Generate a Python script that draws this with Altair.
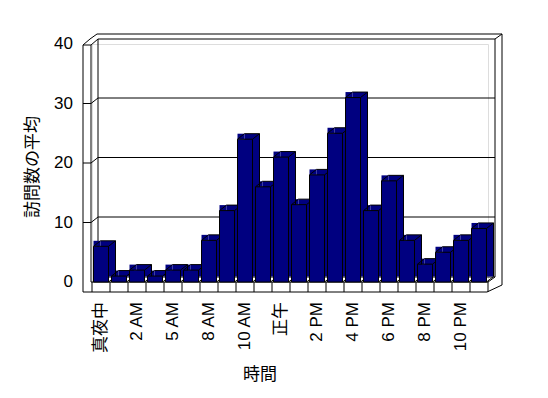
import altair as alt
import pandas as pd

# ---- data ----
hours = ["真夜中", "1 AM", "2 AM", "3 AM", "5 AM", "6 AM", "8 AM", "9 AM", "10 AM",
         "11 AM", "正午", "1 PM", "2 PM", "3 PM", "4 PM", "5 PM", "6 PM", "7 PM",
         "8 PM", "9 PM", "10 PM", "11 PM"]
visits = [6, 1, 2, 1, 2, 2, 7, 12, 24, 16, 21, 13, 18, 25, 31, 12, 17, 7, 3, 5, 7, 9]
y_ticks = [0, 10, 20, 30, 40]
shown_label_idx = [0, 2, 4, 6, 8, 10, 12, 14, 16, 18, 20]

y_title = "訪問数の平均"
x_title = "時間"

# ---- geometry / style ----
W, H = 396, 238
N = len(hours)
YMAX = 40
PX_X = W / N          # px per category
PX_Y = H / YMAX       # px per unit
DX, DY = 7, 5.5       # depth of the 3D effect (px)
DXU, DYU = DX / PX_X, DY / PX_Y
A, B = 1.5 / PX_X, 16.5 / PX_X
NAVY = "#000080"
FONT = "Liberation Sans, Noto Sans CJK JP, sans-serif"

xs = alt.Scale(domain=[0, N], nice=False, zero=False)
ys = alt.Scale(domain=[0, YMAX], nice=False, zero=False)

bars = pd.DataFrame({"i": range(N), "hour": hours, "v": visits})
bars["x0"] = bars["i"] + A
bars["x1"] = bars["i"] + B
bars["zero"] = 0.0
bars["bx0"] = bars["x0"] + DXU
bars["bx1"] = bars["x1"] + DXU
bars["bv"] = bars["v"] + DYU
bars["bz"] = DYU

grid = pd.DataFrame({"v": [10, 20, 30]})
grid["bv"] = grid["v"] + DYU
floor_ticks = pd.DataFrame({"b": list(range(0, N + 1))})
ytick_df = pd.DataFrame({"v": y_ticks, "t": [str(t) for t in y_ticks]})

# frame of the 3D box: pixel offsets inside the plot area, mapped to scale units
frame_px = [
    (-9, 1, -9, 248), (-1, 1, -1, 238), (-9, 1, -1, 1), (-9, 1, -2, -5),
    (-1, 1, 6, -5), (-2, -5, 5, -10), (5, -10, 410, -10), (6, -5, 403, -5),
    (6, -5, 6, 233), (403, -5, 403, 233), (410, -10, 410, 241), (403, -5, 410, -10),
    (-1, 238, 396, 238), (-9, 248, 395, 248), (396, 238, 403, 233),
    (395, 248, 410, 241), (6, 233, 403, 233),
]
frame = pd.DataFrame([
    {"fx": a / PX_X, "fy": (H - b) / PX_Y, "fx2": c / PX_X, "fy2": (H - d) / PX_Y}
    for a, b, c, d in frame_px
])

lbl = pd.DataFrame({"i": shown_label_idx, "t": [hours[i] for i in shown_label_idx]})
lbl["xc"] = lbl["i"] + 0.5

line = dict(color="black", strokeWidth=1)
X = lambda f: alt.X(f, scale=xs, axis=None)
Y = lambda f: alt.Y(f, scale=ys, axis=None)

back_grid = alt.Chart(grid).mark_rule(**line).encode(
    y=Y("bv:Q"), x=alt.value(6), x2=alt.value(403))
frame_l = alt.Chart(frame).mark_rule(**line).encode(
    x=X("fx:Q"), y=Y("fy:Q"), x2="fx2:Q", y2="fy2:Q")
left_grid_h = alt.Chart(grid).mark_rule(**line).encode(
    y=Y("v:Q"), x=alt.value(-9), x2=alt.value(-1))
left_grid_d = alt.Chart(grid).mark_rule(**line).encode(
    y=Y("v:Q"), y2="bv:Q", x=alt.value(-1), x2=alt.value(6))
floor_t = alt.Chart(floor_ticks).mark_rule(**line).encode(
    x=X("b:Q"), y=alt.value(238), y2=alt.value(248))

bc = alt.Chart(bars)
back_rect = bc.mark_rect(color=NAVY, strokeWidth=0).encode(
    x=X("bx0:Q"), x2="bx1:Q", y=Y("bv:Q"), y2="bz:Q")
top_fill = bc.mark_rect(color=NAVY, strokeWidth=0).encode(
    x=X("x0:Q"), x2="bx0:Q", y=Y("v:Q"), y2="bv:Q")
edge_top = bc.mark_rule(**line).encode(x=X("bx0:Q"), x2="bx1:Q", y=Y("bv:Q"))
edge_right = bc.mark_rule(**line).encode(x=X("bx1:Q"), y=Y("bv:Q"), y2="bz:Q")
diag_tl = bc.mark_rule(**line).encode(x=X("x0:Q"), x2="bx0:Q", y=Y("v:Q"), y2="bv:Q")
diag_tr = bc.mark_rule(**line).encode(x=X("x1:Q"), x2="bx1:Q", y=Y("v:Q"), y2="bv:Q")
diag_br = bc.mark_rule(**line).encode(x=X("x1:Q"), x2="bx1:Q", y=Y("zero:Q"), y2="bz:Q")

front_l = bc.mark_rect(color=NAVY, stroke="black", strokeWidth=1).encode(
    x=X("x0:Q"), x2="x1:Q", y=Y("v:Q"), y2="zero:Q")

# y tick labels (front axis)
y_labels = alt.Chart(ytick_df).mark_text(align="right", baseline="middle",
                                         font=FONT, fontSize=17, color="black").encode(
    y=Y("v:Q"), x=alt.value(-19), text="t:N")

y_title_l = alt.Chart(pd.DataFrame({"t": [y_title]})).mark_text(
    angle=270, font=FONT, fontSize=17, color="black", baseline="middle", align="center").encode(
    x=alt.value(-59), y=alt.value(123), text="t:N")

x_labels = alt.Chart(lbl).mark_text(angle=270, align="right", baseline="middle",
                                     font=FONT, fontSize=17, color="black").encode(
    x=X("xc:Q"), y=alt.value(258), text="t:N")

x_title_l = alt.Chart(pd.DataFrame({"t": [x_title]})).mark_text(
    font=FONT, fontSize=17, color="black", baseline="middle", align="center").encode(
    x=alt.value(168), y=alt.value(331), text="t:N")

chart = alt.layer(
    back_grid, frame_l, left_grid_h, left_grid_d, floor_t,
    back_rect, top_fill, edge_top, edge_right, diag_tl, diag_tr, diag_br,
    front_l, y_labels, y_title_l, x_labels, x_title_l
).properties(
    width=W, height=H,
    autosize=alt.AutoSizeParams(type="none"),
    padding={"left": 84, "top": 36, "right": 40, "bottom": 110},
).configure_view(stroke=None).configure(background="white")

chart.save("out.html", embed_options={"renderer": "svg", "actions": False})
